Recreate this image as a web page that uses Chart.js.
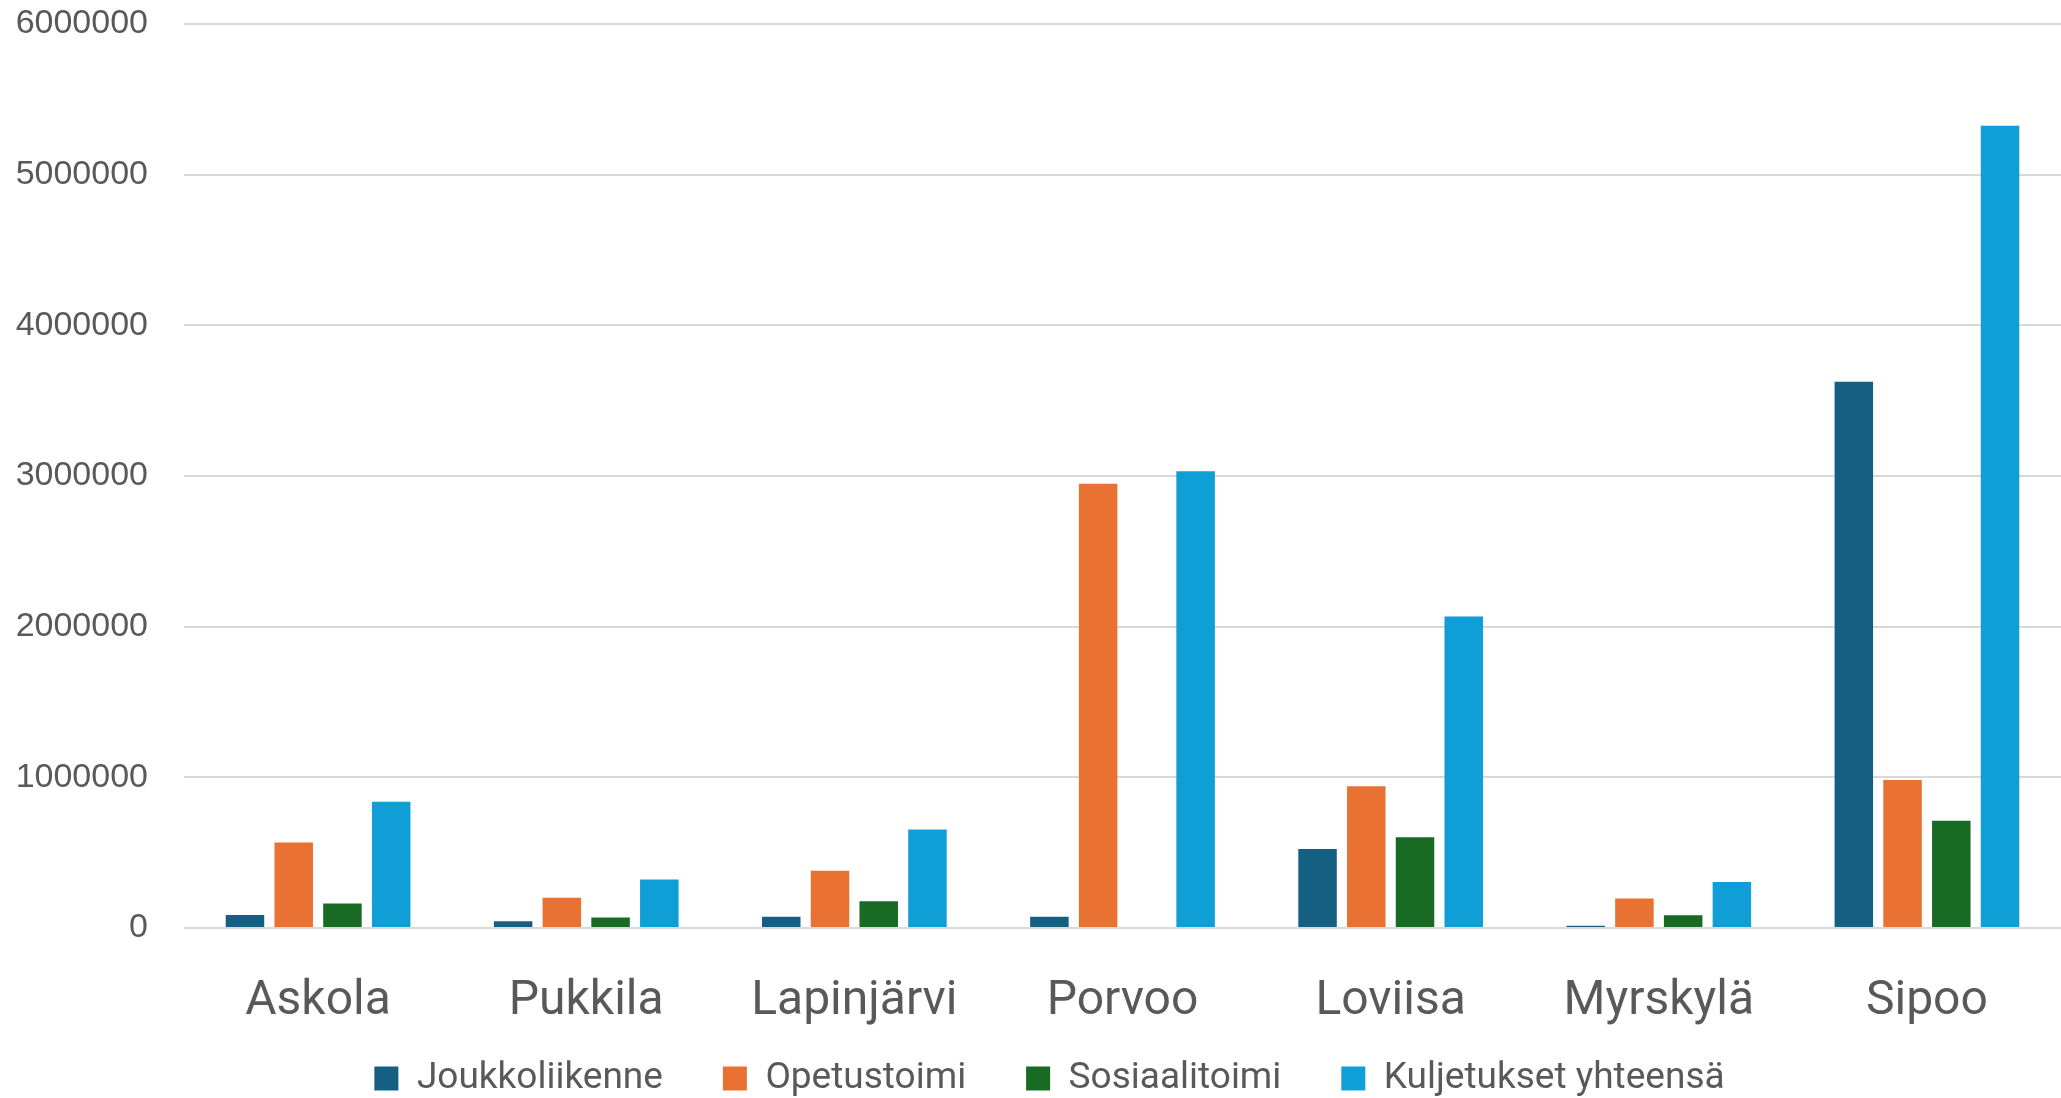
<!DOCTYPE html>
<html>
<head>
<meta charset="utf-8">
<script src="https://cdn.jsdelivr.net/npm/chart.js@4/dist/chart.umd.min.js"></script>
<style>
  html, body { margin: 0; padding: 0; background: #fff; }
  #wrap { width: 2061px; height: 1098px; }
</style>
</head>
<body>
<div id="wrap"><canvas id="kuljetukset"></canvas></div>
<script>
/* Kuljetuskustannukset kunnittain */
const categories     = ['Askola', 'Pukkila', 'Lapinjärvi', 'Porvoo', 'Loviisa', 'Myrskylä', 'Sipoo'];
const joukkoliikenne = [87000, 45000, 75000, 75000, 524000, 15000, 3626000];
const opetustoimi    = [567000, 200000, 380000, 2949000, 941000, 195000, 982000];
const sosiaalitoimi  = [162000, 69000, 178000, 0, 603000, 85000, 712000];
const kuljetukset    = [838000, 322000, 653000, 3031000, 2068000, 305000, 5324000];
const yTicks         = [0, 1000000, 2000000, 3000000, 4000000, 5000000, 6000000];

const C_DARK   = '#156082';
const C_ORANGE = '#E97132';
const C_GREEN  = '#196B24';
const C_LIGHT  = '#0F9ED5';
const TEXT     = '#595959';

const barStyle = {
  categoryPercentage: 0.727,
  barPercentage: 0.79,
  borderWidth: 0,
};

// legend sits a little right of the page centre in the original
const legendNudge = {
  id: 'legendNudge',
  afterLayout(chart) {
    chart.legend.left += 14;
    chart.legend.right += 14;
  },
};

new Chart(document.getElementById('kuljetukset'), {
  type: 'bar',
  data: {
    labels: categories,
    datasets: [
      { label: 'Joukkoliikenne', data: joukkoliikenne, backgroundColor: C_DARK, ...barStyle },
      { label: 'Opetustoimi', data: opetustoimi, backgroundColor: C_ORANGE, ...barStyle },
      { label: 'Sosiaalitoimi', data: sosiaalitoimi, backgroundColor: C_GREEN, ...barStyle },
      { label: 'Kuljetukset yhteensä', data: kuljetukset, backgroundColor: C_LIGHT, ...barStyle },
    ],
  },
  plugins: [legendNudge],
  options: {
    responsive: true,
    maintainAspectRatio: false,
    animation: false,
    layout: { padding: { left: 10, right: 0, top: 0, bottom: 0 } },
    plugins: {
      tooltip: { enabled: false },
      legend: {
        position: 'bottom',
        maxHeight: 98,
        labels: {
          font: { family: 'Roboto', size: 37 },
          color: TEXT,
          boxWidth: 24,
          boxHeight: 24,
          padding: 60,
        },
      },
    },
    scales: {
      x: {
        grid: { display: false, drawTicks: false },
        border: { display: false },
        afterFit: (axis) => { axis.height = 72; },
        ticks: {
          font: { family: 'Roboto', size: 48, lineHeight: 1.2 },
          color: TEXT,
          mirror: true,   // skips the label clip box; negative padding pushes labels down
          padding: -103,
          maxRotation: 0,
        },
      },
      y: {
        min: 0,
        max: 6000000,
        afterBuildTicks: (axis) => { axis.ticks = yTicks.map(v => ({ value: v })); },
        afterFit: (axis) => {
          axis.width = 174;
          axis.paddingTop = 24;
          axis.paddingBottom = 0;
        },
        grid: { color: '#d9d9d9', lineWidth: 2, drawTicks: false },
        border: { display: false },
        ticks: {
          font: { family: '"Liberation Sans", Arial', size: 34 },
          color: TEXT,
          padding: 36,
          callback: (v) => String(v),
        },
      },
    },
  },
});
</script>
</body>
</html>
